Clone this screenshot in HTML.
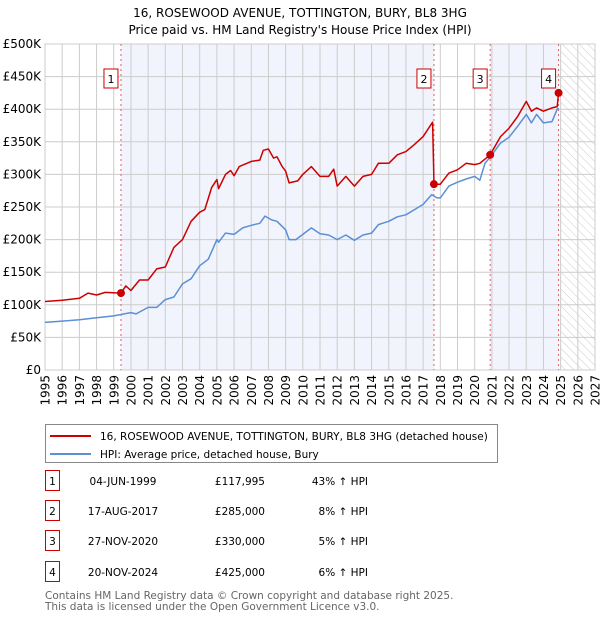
<!DOCTYPE html>
<html><head><meta charset="utf-8"><style>
body{margin:0;background:#fff;font-family:"DejaVu Sans","Liberation Sans",sans-serif;}
#wrap{position:relative;width:600px;height:620px;overflow:hidden}
</style></head><body><div id="wrap">
<svg id="chart" width="600" height="620" style="position:absolute;left:0;top:0"></svg>
</div>
<script>
const hpiYears=[1995,1996,1997,1998,1999,2000,2000.3,2001,2001.5,2002,2002.5,2003,2003.5,2004,2004.5,2005,2005.1,2005.5,2006,2006.5,2007,2007.5,2007.8,2008.2,2008.5,2009,2009.2,2009.6,2010,2010.5,2011,2011.5,2012,2012.5,2013,2013.5,2014,2014.4,2015,2015.5,2016,2016.5,2017,2017.5,2017.8,2018,2018.5,2019,2019.5,2020,2020.3,2020.6,2021,2021.5,2022,2022.5,2023,2023.3,2023.6,2024,2024.5,2024.8,2024.88];
const hpiValues=[73,75,77,80,83,88,86,96,96,108,112,132,140,160,170,200,196,210,208,218,222,225,236,230,228,215,200,200,208,218,209,207,200,207,199,207,210,223,228,235,238,246,254,269,264,264,282,288,293,297,291,317,330,348,357,374,392,379,392,379,381,400,402];
const priceYears=[1995,1996,1997,1997.5,1998,1998.5,1999.42,1999.7,2000,2000.5,2001,2001.5,2002,2002.5,2003,2003.5,2004,2004.3,2004.7,2005,2005.1,2005.5,2005.8,2006,2006.3,2007,2007.5,2007.7,2008,2008.3,2008.5,2008.8,2009,2009.2,2009.7,2010,2010.5,2011,2011.5,2011.8,2012,2012.5,2013,2013.5,2014,2014.4,2015,2015.5,2016,2016.5,2017,2017.55,2017.63,2018,2018.5,2019,2019.5,2020,2020.3,2020.9,2021.5,2022,2022.5,2023,2023.3,2023.6,2024,2024.5,2024.8,2024.88];
const priceValues=[105,107,110,118,115,119,118,129,122,138,138,155,158,188,200,228,242,246,280,292,278,300,306,298,312,320,322,337,339,325,327,312,305,287,290,300,312,297,297,308,282,297,282,297,300,317,317,330,335,346,358,380,285,285,302,307,317,315,317,330,358,371,389,412,397,402,397,402,404,425];
const saleYears=[1999.42,2017.63,2020.9,2024.88];
const saleValues=[117.995,285,330,425];
const saleLabels=["1","2","3","4"];
const saleDates=["04-JUN-1999","17-AUG-2017","27-NOV-2020","20-NOV-2024"];
const salePrices=["£117,995","£285,000","£330,000","£425,000"];
const salePcts=["43% ↑ HPI","8% ↑ HPI","5% ↑ HPI","6% ↑ HPI"];
const yTicks=[0,50,100,150,200,250,300,350,400,450,500];
const yTickLabels=["£0","£50K","£100K","£150K","£200K","£250K","£300K","£350K","£400K","£450K","£500K"];
const xStart=1995,xEnd=2027;

const NS="http://www.w3.org/2000/svg";
const FF='DejaVu Sans, Liberation Sans, sans-serif';
const svg=document.getElementById('chart');
const L=45,R=595,T=44,B=370;
const X=y=>L+(y-xStart)/(xEnd-xStart)*(R-L);
const Y=v=>B-v/500*(B-T);
function el(tag,attrs,parent){const e=document.createElementNS(NS,tag);for(const k in attrs)e.setAttribute(k,attrs[k]);(parent||svg).appendChild(e);return e;}
function txt(s,attrs){const e=el('text',attrs);e.textContent=s;return e;}

const defs=el('defs',{});
const pat=el('pattern',{id:'hatch',width:6,height:6,patternUnits:'userSpaceOnUse',patternTransform:'rotate(-45)'},defs);
el('rect',{width:6,height:6,fill:'#fff'},pat);
el('line',{x1:0,y1:0,x2:0,y2:6,stroke:'#cccccc','stroke-width':1},pat);

let r=el('rect',{x:X(saleYears[0]),y:T,width:X(saleYears[1])-X(saleYears[0]),height:B-T,fill:'#f1f4fc'});

r=el('rect',{x:X(saleYears[2]),y:T,width:X(saleYears[3])-X(saleYears[2]),height:B-T,fill:'#f1f4fc'});

r=el('rect',{x:X(2025),y:T,width:R-X(2025),height:B-T,fill:'url(#hatch)'});


for(let y=xStart;y<=xEnd;y++){
  const g=el('line',{x1:X(y),x2:X(y),y1:T,y2:B,stroke:'#cccccc','stroke-width':1});
  
  const t=txt(String(y),{x:0,y:0,transform:`translate(${X(y)+4.5},${B+5}) rotate(-90)`,'text-anchor':'end','font-size':12,fill:'#000','font-family':FF});
  
}
yTicks.forEach((v,i)=>{
  const g=el('line',{x1:L,x2:R,y1:Y(v),y2:Y(v),stroke:'#cccccc','stroke-width':1});
  
  const t=txt(yTickLabels[i],{x:L-4,y:Y(v)+4,'text-anchor':'end','font-size':12,fill:'#000','font-family':FF});
  
});
const fr=el('rect',{x:L,y:T,width:R-L,height:B-T,fill:'none',stroke:'#cccccc'});


saleYears.forEach((y,i)=>{
  const l=el('line',{x1:X(y),x2:X(y),y1:T,y2:B,stroke:'#e06060','stroke-dasharray':'2,3','stroke-width':1});
  
});

function path(xs,vs,color,name){
  const d=xs.map((x,i)=>(i?'L':'M')+X(x).toFixed(1)+','+Y(vs[i]).toFixed(1)).join('');
  const p=el('path',{d,fill:'none',stroke:color,'stroke-width':1.5,'stroke-linejoin':'round'});
  
}
path(hpiYears,hpiValues,'#5b8fd6','hpi-line');
path(priceYears,priceValues,'#cc0000','price-line');

saleYears.forEach((y,i)=>{
  const c=el('circle',{cx:X(y),cy:Y(saleValues[i]),r:4,fill:'#cc0000'});
  
  const by=69;
  const b=el('rect',{x:X(y)-17,y:by,width:14,height:19,fill:'#fff',stroke:'#cc0000'});
  
  const t=txt(saleLabels[i],{x:X(y)-10,y:by+14,'text-anchor':'middle','font-size':11,fill:'#000','font-family':FF});
  
});

function T2(s,x,y,anchor,size,color,name){const t=txt(s,{x,y,'text-anchor':anchor||'start','font-size':size||12,fill:color||'#000','font-family':FF});return t;}
T2('16, ROSEWOOD AVENUE, TOTTINGTON, BURY, BL8 3HG',300,17,'middle',12,'#000','chart-title');
T2("Price paid vs. HM Land Registry's House Price Index (HPI)",300,34,'middle',12,'#000','chart-subtitle');

const lg=el('rect',{x:45.5,y:424.5,width:452,height:38,fill:'#fff',stroke:'#888'});

let ll=el('line',{x1:50,x2:91,y1:436,y2:436,stroke:'#cc0000','stroke-width':2});
ll=el('line',{x1:50,x2:91,y1:454,y2:454,stroke:'#5b8fd6','stroke-width':2});
T2('16, ROSEWOOD AVENUE, TOTTINGTON, BURY, BL8 3HG (detached house)',100,440,'start',10.5,'#000','legend-price-label');
T2('HPI: Average price, detached house, Bury',100,458,'start',10.5,'#000','legend-hpi-label');

const rowY=[482,512,542,573];
rowY.forEach((y,i)=>{
  const b=el('rect',{x:45.5,y:y-11.5,width:14,height:20,fill:'#fff',stroke:'#cc0000'});
  
  T2(saleLabels[i],52.5,y+3,'middle',10.5,'#000','table-row-number');
  T2(saleDates[i],123,y+3,'middle',10.5,'#000','table-row-date');
  T2(salePrices[i],265,y+3,'end',10.5,'#000','table-row-price');
  T2(salePcts[i],368,y+3,'end',10.5,'#000','table-row-hpi-change');
});
T2('Contains HM Land Registry data © Crown copyright and database right 2025.',45,599,'start',10.5,'#666','footer-copyright');
T2('This data is licensed under the Open Government Licence v3.0.',45,610,'start',10.5,'#666','footer-licence');
</script></body></html>
